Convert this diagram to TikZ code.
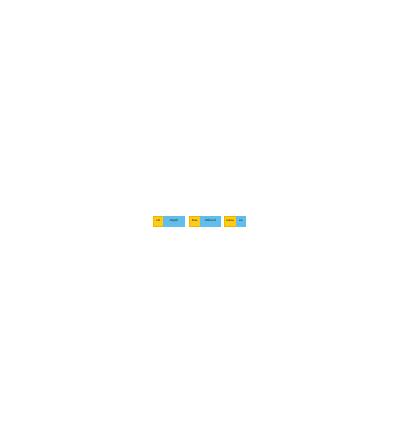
\documentclass[tikz,border=0pt]{standalone}
\usetikzlibrary{positioning}
\definecolor{badgeyellow}{RGB}{255,204,20}
\definecolor{badgeblue}{RGB}{95,190,235}
\definecolor{badgeedge}{RGB}{240,180,0}
\begin{document}
\begin{tikzpicture}[x=1bp,y=-1bp,
  badgetext/.style={font=\sffamily\bfseries\fontsize{3.2}{4}\selectfont, text=black!80, text height=2.4bp, text depth=0.6bp},
  keypart/.style={badgetext, fill=badgeyellow, draw=badgeedge, line width=0.3bp, minimum height=10bp, inner sep=0pt, anchor=west},
  valpart/.style={badgetext, fill=badgeblue, draw=badgeblue, line width=0.3bp, minimum height=10bp, inner sep=0pt, anchor=west}]
\useasboundingbox[fill=white] (0,0) rectangle (400,445);
\node[keypart, minimum width=10bp] (k1) at (153,221) {cal};
\node[valpart, minimum width=21bp, right=0pt of k1] (v1) {depth};
\node[keypart, minimum width=11bp] (k2) at (189,221) {bias};
\node[valpart, minimum width=20bp, right=0pt of k2] (v2) {deferral};
\node[keypart, minimum width=12bp] (k3) at (224,221) {menu};
\node[valpart, minimum width=9bp, right=0pt of k3] (v3) {on};
\end{tikzpicture}
\end{document}
